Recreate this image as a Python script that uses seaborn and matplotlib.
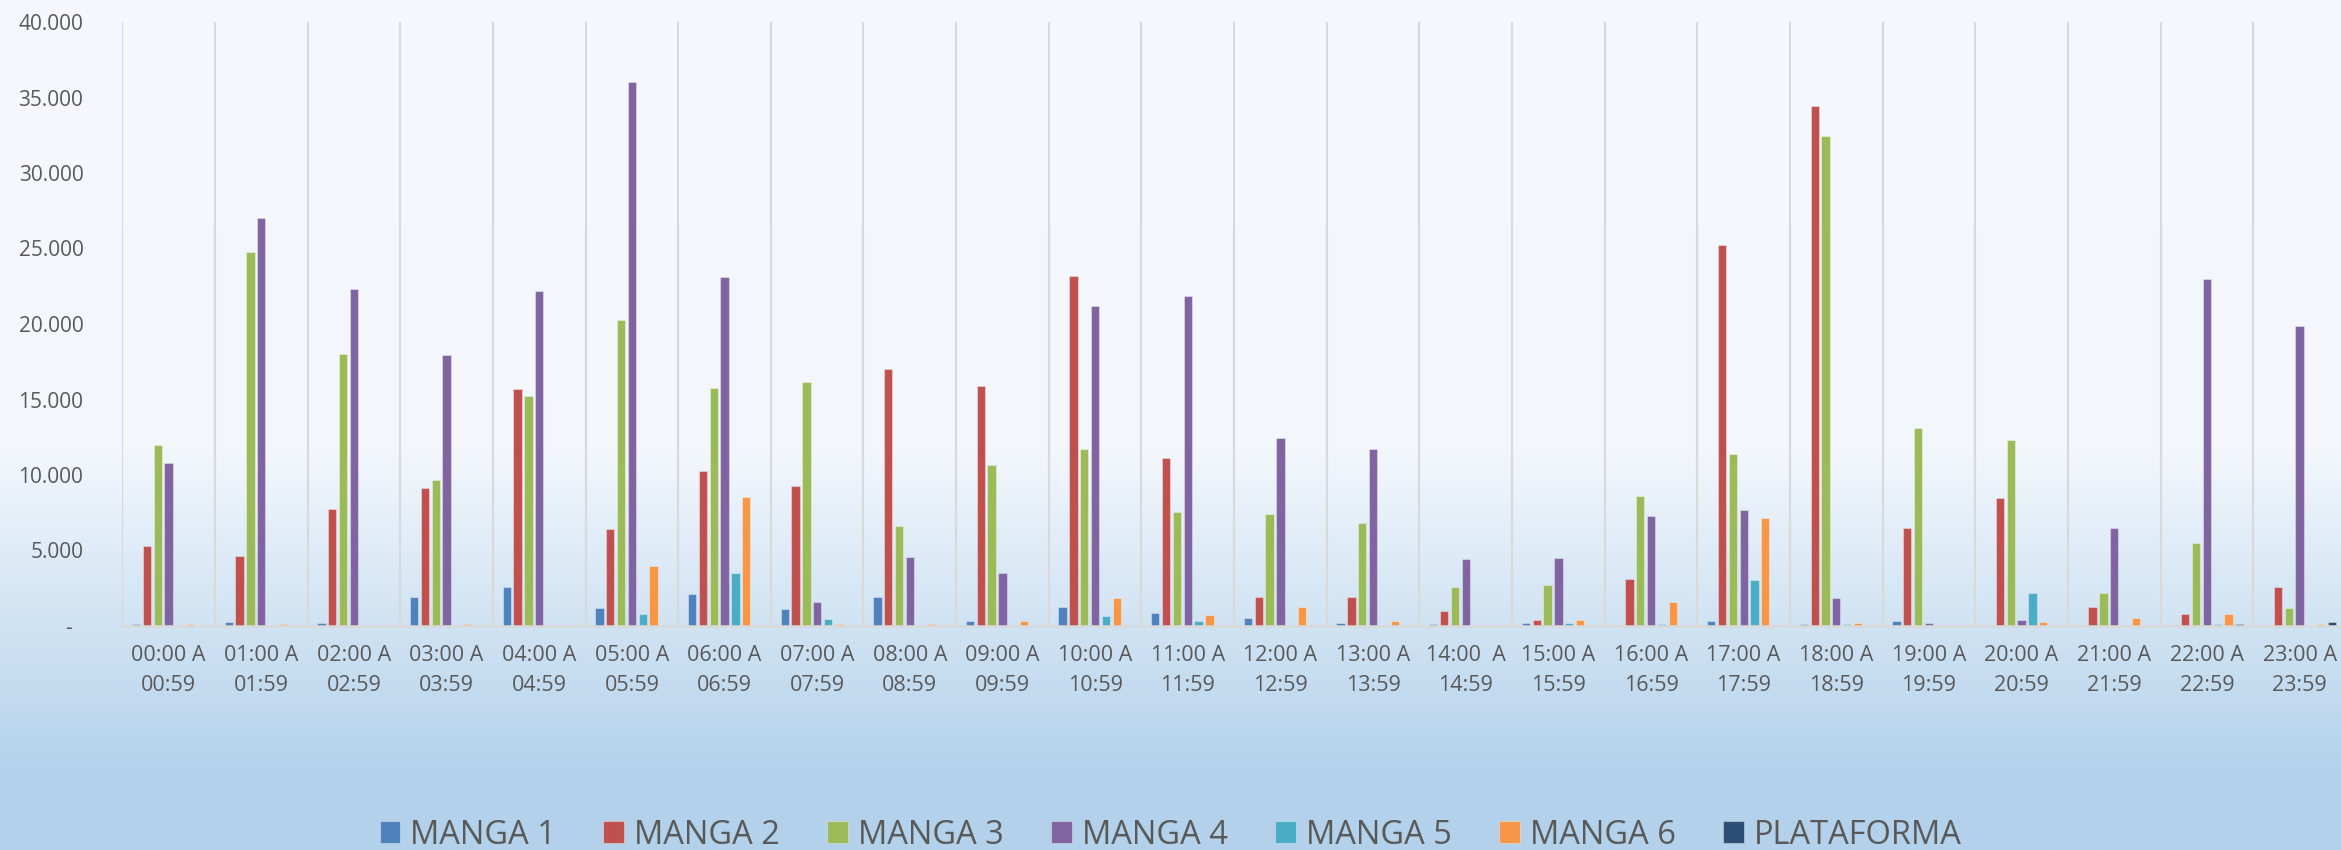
import numpy as np
import pandas as pd
import matplotlib
matplotlib.use("Agg")
import matplotlib.pyplot as plt
from matplotlib.colors import LinearSegmentedColormap
from matplotlib.ticker import FixedLocator, FuncFormatter
import seaborn as sns

# ---------------- data ----------------
hours = ["00:00 A\n00:59", "01:00 A\n01:59", "02:00 A\n02:59", "03:00 A\n03:59",
         "04:00 A\n04:59", "05:00 A\n05:59", "06:00 A\n06:59", "07:00 A\n07:59",
         "08:00 A\n08:59", "09:00 A\n09:59", "10:00 A\n10:59", "11:00 A\n11:59",
         "12:00 A\n12:59", "13:00 A\n13:59", "14:00  A\n14:59", "15:00 A\n15:59",
         "16:00 A\n16:59", "17:00 A\n17:59", "18:00 A\n18:59", "19:00 A\n19:59",
         "20:00 A\n20:59", "21:00 A\n21:59", "22:00 A\n22:59", "23:00 A\n23:59"]

series_names = ["MANGA 1", "MANGA 2", "MANGA 3", "MANGA 4", "MANGA 5", "MANGA 6", "PLATAFORMA"]

manga1 = [130, 290, 200, 1920, 2580, 1210, 2110, 1130, 1920, 360, 1290, 880,
          520, 190, 150, 190, 50, 330, 155, 310, 0, 40, 70, 0]
manga2 = [5270, 4640, 7740, 9140, 15670, 6420, 10260, 9270, 17010, 15890, 23210, 11110,
          1890, 1950, 990, 410, 3100, 25240, 34460, 6480, 8450, 1260, 780, 2590]
manga3 = [11990, 24750, 18000, 9660, 15200, 20270, 15750, 16160, 6610, 10650, 11720, 7570,
          7440, 6800, 2580, 2740, 8590, 11360, 32460, 13110, 12290, 2200, 5490, 1170]
manga4 = [10780, 27050, 22310, 17940, 22170, 36050, 23130, 1620, 4550, 3480, 21180, 21840,
          12430, 11690, 4420, 4500, 7300, 7650, 1830, 220, 410, 6480, 22990, 19890]
manga5 = [0, 0, 0, 0, 0, 800, 3540, 490, 0, 0, 660, 300,
          0, 0, 0, 190, 100, 3050, 130, 0, 2200, 70, 155, 0]
manga6 = [130, 130, 0, 100, 0, 3980, 8530, 160, 140, 360, 1840, 710,
          1290, 300, 0, 380, 1620, 7130, 220, 90, 270, 510, 775, 130]
plataforma = [0, 0, 0, 0, 0, 0, 0, 0, 0, 0, 0, 0,
              0, 0, 0, 0, 0, 50, 0, 0, 0, 0, 155, 265]

y_ticks = [0, 5000, 10000, 15000, 20000, 25000, 30000, 35000, 40000]

colors = ["#4F81BD", "#C0504D", "#9BBB59", "#8064A2", "#4BACC6", "#F79646", "#2C4D75"]

all_series = [manga1, manga2, manga3, manga4, manga5, manga6, plataforma]
df = pd.DataFrame({
    "hora": np.repeat([hours], len(series_names), axis=0).ravel(),
    "serie": np.repeat(series_names, len(hours)),
    "valor": np.concatenate(all_series),
})

# ---------------- figure ----------------
sns.set_theme(style="white")
plt.rcParams["font.family"] = ["Open Sans", "DejaVu Sans"]
TXT = "#595959"

W, H = 2341, 850
fig = plt.figure(figsize=(W / 100, H / 100), dpi=100)

# background gradient
bg = fig.add_axes([0, 0, 1, 1], zorder=-10)
cmap = LinearSegmentedColormap.from_list(
    "bg",
    [(0.0, (245/255, 249/255, 253/255)),
     (0.53, (243/255, 247/255, 252/255)),
     (0.90, (181/255, 211/255, 236/255)),
     (1.0, (179/255, 209/255, 235/255))])
grad = np.linspace(0, 1, 512).reshape(-1, 1)
bg.imshow(grad, aspect="auto", cmap=cmap, extent=[0, 1, 1, 0])
bg.set_xlim(0, 1); bg.set_ylim(1, 0)
bg.axis("off")

left = 122.3 / W
bottom = (H - 626) / H
width = 24 * 92.65 / W
height = (626 - 22) / H
ax = fig.add_axes([left, bottom, width, height])
ax.set_facecolor("none")

sns.barplot(data=df, x="hora", y="valor", hue="serie", palette=colors,
            order=hours, hue_order=series_names, width=0.818, gap=0.23,
            saturation=1, edgecolor=(1, 1, 1, 0.35), linewidth=0.8,
            errorbar=None, ax=ax)

ax.set_xlim(-0.5, len(hours) - 0.5)
ax.set_ylim(0, 40000)
ax.set_xlabel("")
ax.set_ylabel("")

ax.yaxis.set_major_locator(FixedLocator(y_ticks))
def fmt(v, pos):
    if v == 0:
        return "-  "
    return f"{int(v):,}".replace(",", ".")
ax.yaxis.set_major_formatter(FuncFormatter(fmt))

ax.xaxis.set_minor_locator(FixedLocator(np.arange(-0.5, len(hours), 1.0)))
ax.grid(False)
ax.grid(which="minor", axis="x", color="#D9D9D9", linewidth=1.6)
ax.set_axisbelow(True)

for s in ["top", "right", "left"]:
    ax.spines[s].set_visible(False)
ax.spines["bottom"].set_color("#D9D9D9")
ax.spines["bottom"].set_linewidth(1.8)

ax.tick_params(axis="y", length=0, pad=28, labelsize=15, labelcolor=TXT)
ax.tick_params(axis="x", which="both", length=0, pad=14, labelsize=15.5, labelcolor=TXT)
for lab in ax.get_xticklabels():
    lab.set_linespacing(1.55)

handles, labels = ax.get_legend_handles_labels()
ax.get_legend().remove()
fig.legend(handles, labels, loc="center", bbox_to_anchor=(0.5, (H - 835) / H),
           ncol=7, frameon=False, fontsize=23.5, labelcolor=TXT,
           handlelength=0.64, handleheight=0.64, handletextpad=0.3,
           columnspacing=1.45, borderpad=0, borderaxespad=0)

fig.savefig("out.png", dpi=100)
